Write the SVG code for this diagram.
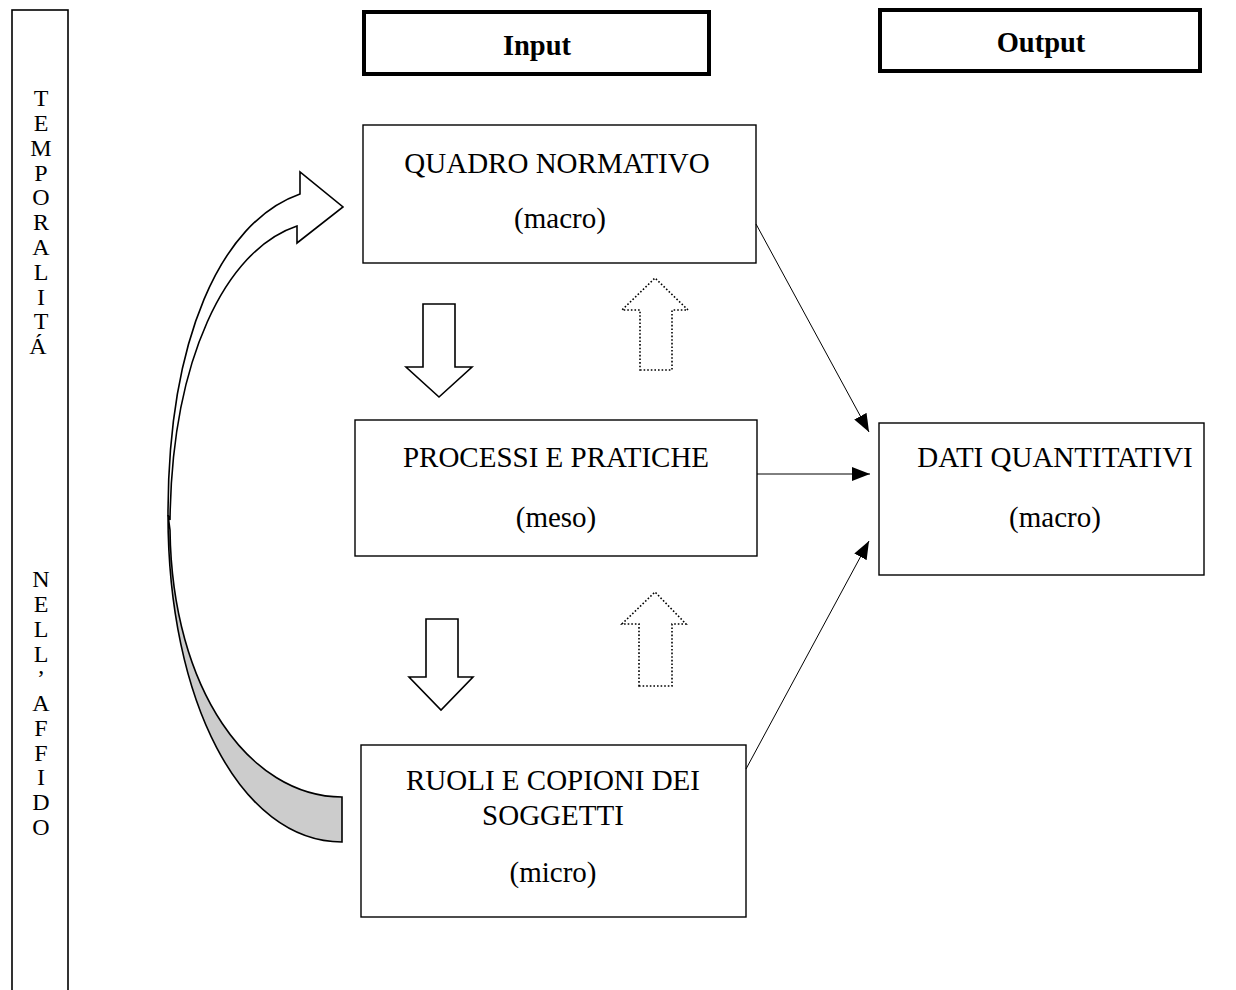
<svg xmlns="http://www.w3.org/2000/svg" width="1236" height="990" viewBox="0 0 1236 990">
<style>
.t{font-family:"Liberation Serif","Times New Roman",serif;font-size:29px;fill:#000;text-anchor:middle}
.s{font-family:"Liberation Serif","Times New Roman",serif;font-size:24px;fill:#000;text-anchor:middle}
.b{font-family:"Liberation Serif","Times New Roman",serif;font-size:28.5px;font-weight:bold;fill:#000;text-anchor:middle}
.box{fill:#fff;stroke:#000;stroke-width:1.4}
.hdr{fill:#fff;stroke:#000;stroke-width:4}
.blk{fill:#fff;stroke:#000;stroke-width:1.6;stroke-linejoin:miter}
.dot{fill:#fff;stroke:#000;stroke-width:1.6;stroke-dasharray:1.6 2}
.ln{stroke:#000;stroke-width:1;fill:none}
</style>
<defs>
<marker id="ah" viewBox="0 0 18 14" refX="18" refY="7" markerWidth="18" markerHeight="14" markerUnits="userSpaceOnUse" orient="auto">
<path d="M0,0 L18,7 L0,14 z" fill="#000"/>
</marker>
</defs>

<g id="side">
<rect x="12" y="10" width="56" height="1000" fill="#fff" stroke="#000" stroke-width="1.6"/>
<text class="s" x="41">
<tspan x="41" y="106">T</tspan><tspan x="41" y="131">E</tspan><tspan x="41" y="156">M</tspan><tspan x="41" y="181">P</tspan><tspan x="41" y="205">O</tspan><tspan x="41" y="230">R</tspan><tspan x="41" y="255">A</tspan><tspan x="41" y="280">L</tspan><tspan x="41" y="305">I</tspan><tspan x="41" y="329">T</tspan><tspan x="41" y="354">Á</tspan>
<tspan x="41" y="587">N</tspan><tspan x="41" y="612">E</tspan><tspan x="41" y="637">L</tspan><tspan x="41" y="662">L</tspan><tspan x="41" y="686">’</tspan><tspan x="41" y="711">A</tspan><tspan x="41" y="736">F</tspan><tspan x="41" y="761">F</tspan><tspan x="41" y="785">I</tspan><tspan x="41" y="810">D</tspan><tspan x="41" y="835">O</tspan>
</text>
</g>

<g id="input">
<rect class="hdr" x="364" y="12" width="345" height="62"/>
<text class="b" x="537" y="55">Input</text>
</g>
<g id="output">
<rect class="hdr" x="880" y="10" width="320" height="61"/>
<text class="b" x="1041" y="52">Output</text>
</g>

<g id="quadro">
<rect class="box" x="363" y="125" width="393" height="138"/>
<text class="t" x="557" y="173">QUADRO NORMATIVO</text>
<text class="t" x="560" y="228">(macro)</text>
</g>
<g id="processi">
<rect class="box" x="355" y="420" width="402" height="136"/>
<text class="t" x="556" y="467">PROCESSI E PRATICHE</text>
<text class="t" x="556" y="527">(meso)</text>
</g>
<g id="ruoli">
<rect class="box" x="361" y="745" width="385" height="172"/>
<text class="t" x="553" y="790">RUOLI E COPIONI DEI</text>
<text class="t" x="553" y="825">SOGGETTI</text>
<text class="t" x="553" y="882">(micro)</text>
</g>
<g id="dati">
<rect class="box" x="879" y="423" width="325" height="152"/>
<text class="t" x="1055" y="467">DATI QUANTITATIVI</text>
<text class="t" x="1055" y="527">(macro)</text>
</g>

<g id="down1"><path class="blk" d="M423,304 H455 V367 H472 L439,397 L406,367 H423 Z"/></g>
<g id="down2"><path class="blk" d="M426,619 H458 V677 H473 L441,710 L409,677 H426 Z"/></g>
<g id="up1"><path class="dot" d="M640,370 H672 V310 H688 L655,278 L622,310 H640 Z"/></g>
<g id="up2"><path class="dot" d="M639,686 H672 V624 H686 L655,592 L622,624 H639 Z"/></g>

<g id="curved">
<path d="M168,515 C168,700 240,842 342,842 L342,797 C250,797 172,690 170,530 Z" fill="#ccc" stroke="#000" stroke-width="1.6"/>
<path d="M168,515 C168,340 220,222 300,194 L300,172 L343,207 L297,243 L297,226 C225,250 172,360 170,520 Z" fill="#fff" stroke="#000" stroke-width="1.6" stroke-linejoin="miter"/>
</g>

<g id="connectors">
<line class="ln" x1="756" y1="224" x2="869" y2="432" marker-end="url(#ah)"/>
<line class="ln" x1="757" y1="474" x2="870" y2="474" marker-end="url(#ah)"/>
<line class="ln" x1="746" y1="769" x2="869" y2="541" marker-end="url(#ah)"/>
</g>
</svg>
